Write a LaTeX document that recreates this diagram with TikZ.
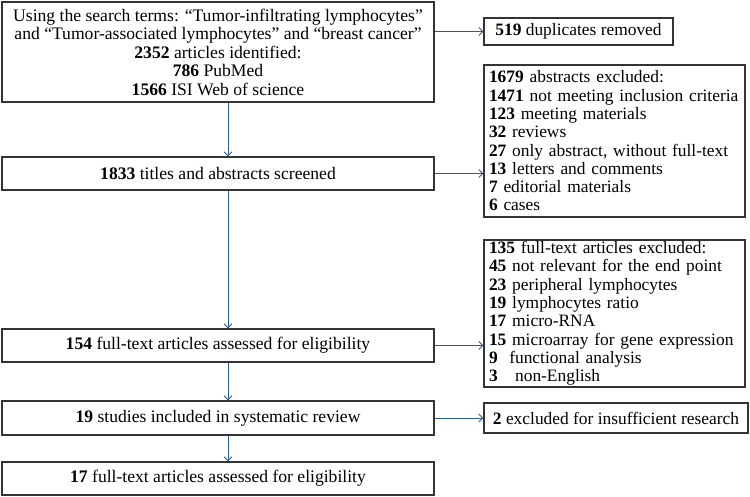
\documentclass[tikz,border=0pt]{standalone}
\usepackage{fontspec}
\setmainfont{Liberation Serif}
\usetikzlibrary{arrows.meta}
\definecolor{flowblue}{HTML}{2B5C8F}
\definecolor{boxgray}{HTML}{333333}
\begin{document}
\begin{tikzpicture}[x=1pt, y=-1pt,
    mainbox/.style={rectangle, draw=boxgray, line width=1.2pt, minimum width=432pt, inner sep=0pt, align=center, font=\fontsize{17.6}{18.5}\selectfont},
    sidebox/.style={rectangle, draw=boxgray, line width=1.2pt, inner xsep=5pt, inner ysep=0pt, align=left, font=\fontsize{17.4}{18.3}\selectfont},
    flow/.style={flowblue, line width=0.9pt, -{Straight Barb[length=4pt, width=8pt]}}]
\useasboundingbox (0,0) rectangle (750,497);
\node[mainbox, minimum height=100pt] (search) at (218,52) {Using the search terms: “Tumor-infiltrating lymphocytes”\\
and “Tumor-associated lymphocytes” and “breast cancer”\\
\textbf{2352} articles identified:\\
\textbf{786} PubMed\hspace*{58pt}\\
\textbf{1566} ISI Web of science};
\node[sidebox, minimum width=189pt, minimum height=27pt] (dup) at (578.5,31.5) {\textbf{519} duplicates removed};
\node[sidebox, text width=251pt, minimum height=152pt] (abs) at (614.5,141) {\textbf{1679} abstracts excluded:\\
\textbf{1471} not meeting inclusion criteria\\
\textbf{123} meeting materials\\
\textbf{32} reviews\\
\textbf{27} only abstract, without full-text\\
\textbf{13} letters and comments\\
\textbf{7} editorial materials\\
\textbf{6} cases};
\node[mainbox, minimum height=33pt] (screen) at (218,173.5) {\textbf{1833} titles and abstracts screened};
\node[sidebox, text width=251pt, minimum height=147pt] (full) at (614.5,313.5) {\textbf{135} full-text articles excluded:\\
\textbf{45} not relevant for the end point\\
\textbf{23} peripheral lymphocytes\\
\textbf{19} lymphocytes ratio\\
\textbf{17} micro-RNA\\
\textbf{15} microarray for gene expression\\
\textbf{9}\ \ functional analysis\\
\textbf{3}\ \ \ non-English};
\node[mainbox, minimum height=33pt] (elig) at (218,345.5) {\textbf{154} full-text articles assessed for eligibility};
\node[mainbox, minimum height=34pt] (incl) at (218,418) {\textbf{19} studies included in systematic review};
\node[sidebox, minimum width=264pt, minimum height=30pt] (insuf) at (616,418) {\textbf{2} excluded for insufficient research};
\node[mainbox, minimum height=33pt] (final) at (218,478.5) {\textbf{17} full-text articles assessed for eligibility};
\coordinate (ax) at (228,0);

\draw[flow] (search.south -| ax) -- (screen.north -| ax);
\draw[flow] (screen.south -| ax) -- (elig.north -| ax);
\draw[flow] (elig.south -| ax) -- (incl.north -| ax);
\draw[flow] (incl.south -| ax) -- (final.north -| ax);
\draw[flow] (search.east |- dup.west) -- (dup.west);
\draw[flow] (screen.east) -- (screen.east -| abs.west);
\draw[flow] (elig.east) -- (elig.east -| full.west);
\draw[flow] (incl.east) -- (insuf.west);
\end{tikzpicture}
\end{document}
